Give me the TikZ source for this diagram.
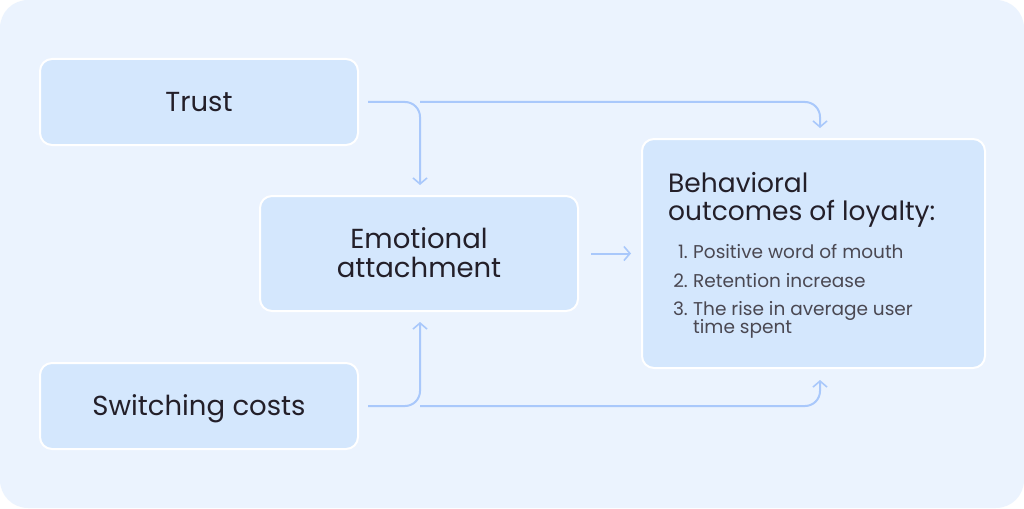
\documentclass[tikz,border=0pt]{standalone}
\usepackage{fontspec}
\setmainfont{Poppins}
\usetikzlibrary{arrows.meta}
\definecolor{bgc}{HTML}{EBF3FE}
\definecolor{boxc}{HTML}{D4E7FD}
\definecolor{linec}{HTML}{A9C8FB}
\definecolor{txt}{HTML}{231F29}
\definecolor{sub}{HTML}{4A4852}
\begin{document}
\begin{tikzpicture}[x=1pt,y=-1pt,
  box/.style={draw=white,line width=2pt,fill=boxc,rounded corners=12pt,inner sep=0pt},
  lbl/.style={text=txt,font=\fontsize{27.5}{29}\selectfont,align=center},
  conn/.style={draw=linec,line width=2pt,rounded corners=15pt,-{Straight Barb[length=6pt,width=14pt,line width=1.6pt]}},
  item/.style={text=sub,font=\fontsize{18.5}{18}\selectfont,anchor=base west,inner sep=0pt}]
\useasboundingbox (0,0) rectangle (1024,508);
\fill[white] (0,0) rectangle (1024,508);
\fill[bgc,rounded corners=28pt] (0,0) rectangle (1024,508);
\node[box,minimum width=318pt,minimum height=86pt] (trust) at (199,102) {};
\node[lbl,anchor=base] at (199,111) {Trust};
\node[box,minimum width=318pt,minimum height=86pt] (switch) at (199,406) {};
\node[lbl,anchor=base] at (199,415) {Switching costs};
\node[box,minimum width=318pt,minimum height=115pt] (emo) at (419,253.5) {};
\node[lbl,anchor=base] at (419,277) {Emotional\\attachment};
\node[box,minimum width=343pt,minimum height=229pt] (beh) at (813.5,253.5) {};
\node[text=txt,font=\fontsize{26.5}{28}\selectfont,align=left,anchor=base west,inner sep=0pt] at (668,220) {Behavioral\\outcomes of loyalty:};
\node[item,anchor=base east] at (688,258) {1.};
\node[item] at (693,258) {Positive word of mouth};
\node[item,anchor=base east] at (688,287) {2.};
\node[item] at (693,287) {Retention increase};
\node[item,anchor=base east] at (688,315) {3.};
\node[item] at (693,315) {The rise in average user};
\node[item] at (693,333) {time spent};
% connectors
\coordinate (t1) at (420,185);
\coordinate (t2) at (820,128);
\coordinate (s1) at (420,322);
\coordinate (s2) at (820,380);
\draw[conn] ([xshift=9pt]trust.east) -- (420,102) -- (t1);
\draw[conn] (420,102) -- (820,102) -- (t2);
\draw[conn] ([xshift=9pt]switch.east) -- (420,406) -- (s1);
\draw[conn] (420,406) -- (820,406) -- (s2);
\draw[conn] ([xshift=12pt]emo.east) -- ([xshift=-10pt]beh.west);
\end{tikzpicture}
\end{document}
